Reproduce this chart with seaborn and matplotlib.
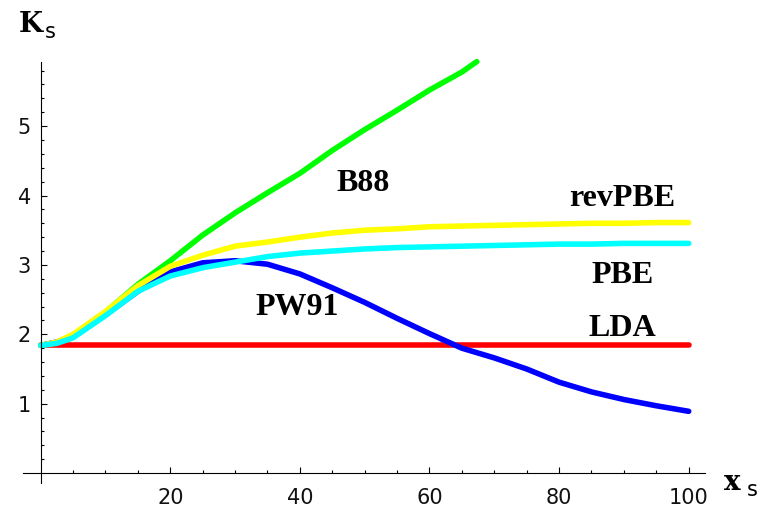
import pandas as pd
import numpy as np
import matplotlib
matplotlib.use("Agg")
import matplotlib.pyplot as plt
import seaborn as sns

# values
x_grid = [0, 2.5, 5, 10, 15, 20, 25, 30, 35, 40, 45, 50, 55, 60, 65, 70, 75, 80, 85, 90, 95, 100]

lda_x = [0, 100]
lda_k = [1.84, 1.84]

b88_x = [0, 2.5, 5, 10, 15, 20, 25, 30, 35, 40, 45, 50, 55, 60, 65, 67.3]
b88_k = [1.84, 1.88, 1.98, 2.32, 2.72, 3.06, 3.43, 3.75, 4.04, 4.32, 4.65, 4.95, 5.23, 5.52, 5.78, 5.93]

pw91_k = [1.84, 1.89, 1.97, 2.28, 2.62, 2.90, 3.03, 3.06, 3.01, 2.87, 2.67, 2.46, 2.23, 2.01,
          1.80, 1.66, 1.50, 1.31, 1.17, 1.06, 0.97, 0.89]
pbe_k = [1.84, 1.87, 1.95, 2.27, 2.62, 2.84, 2.96, 3.04, 3.12, 3.17, 3.20, 3.23, 3.25, 3.26,
         3.27, 3.28, 3.29, 3.30, 3.30, 3.31, 3.31, 3.31]
revpbe_k = [1.84, 1.89, 2.00, 2.33, 2.70, 2.98, 3.14, 3.27, 3.33, 3.40, 3.46, 3.50, 3.52, 3.55,
            3.56, 3.57, 3.58, 3.59, 3.60, 3.60, 3.61, 3.61]

order = ['LDA', 'B88', 'PW91', 'revPBE', 'PBE']
colors = {'LDA': '#ff0000', 'B88': '#00ff00', 'PW91': '#0000ff',
          'revPBE': '#ffff00', 'PBE': '#00ffff'}

frames = [
    pd.DataFrame({'x': lda_x, 'K': lda_k, 'method': 'LDA'}),
    pd.DataFrame({'x': b88_x, 'K': b88_k, 'method': 'B88'}),
    pd.DataFrame({'x': x_grid, 'K': pw91_k, 'method': 'PW91'}),
    pd.DataFrame({'x': x_grid, 'K': revpbe_k, 'method': 'revPBE'}),
    pd.DataFrame({'x': x_grid, 'K': pbe_k, 'method': 'PBE'}),
]
df = pd.concat(frames, ignore_index=True)

sns.set_theme(style="white")
plt.rcParams['font.family'] = ['DejaVu Sans']

W, H = 762, 508
fig = plt.figure(figsize=(W / 100, H / 100), dpi=100)
ax = fig.add_axes([23.2 / W, 1 - 482.8 / H, (704.9 - 23.2) / W, (482.8 - 61.6) / H])

sns.lineplot(data=df, x='x', y='K', hue='method', hue_order=order, palette=colors,
             estimator=None, sort=False, linewidth=4, legend=False, ax=ax)
for line in ax.get_lines():
    line.set_solid_capstyle('round')
    line.set_clip_on(False)

ax.set_xlim(-2.7, 102.5)
ax.set_ylim(-0.14, 5.93)

# axes through the origin
for side in ['top', 'right']:
    ax.spines[side].set_visible(False)
ax.spines['left'].set_position(('data', 0))
ax.spines['bottom'].set_position(('data', 0))
for side in ['left', 'bottom']:
    ax.spines[side].set_color('black')
    ax.spines[side].set_linewidth(0.8)

ax.set_xticks([20, 40, 60, 80, 100])
ax.set_xticks(np.arange(5, 101, 5), minor=True)
ax.set_yticks([1, 2, 3, 4, 5])
ax.set_yticks(np.arange(0.2, 5.95, 0.2), minor=True)
ax.tick_params(which='both', direction='in', color='black', width=0.8,
               bottom=True, left=True, top=False, right=False)
ax.tick_params(which='major', length=4.5, labelsize=15, labelcolor='#111111')
ax.tick_params(which='minor', length=2.5)
ax.tick_params(axis='x', which='major', pad=11)
ax.tick_params(axis='y', which='major', pad=7)
ax.set_xlabel('')
ax.set_ylabel('')
ax.grid(False)

# curve names
lab = dict(fontfamily='Liberation Serif', fontweight='bold', fontsize=23,
           ha='center', va='center', color='black')
ax.text(49.8, 4.17, 'B88', **lab)
ax.text(89.8, 3.96, 'revPBE', **lab)
ax.text(89.8, 2.85, 'PBE', **lab)
ax.text(89.8, 2.08, 'LDA', **lab)
ax.text(39.6, 2.38, 'PW91', **lab)

# axis titles K_s and x_s
slab = dict(fontfamily='DejaVu Serif', fontweight='bold', fontsize=20, va='baseline', color='black')
sub = dict(fontfamily='DejaVu Sans', fontsize=15, va='baseline', color='black')
fig.text(19 / W, 1 - 32 / H, 'K', **slab)
fig.text(45 / W, 1 - 38 / H, 's', **sub)
fig.text(724 / W, 1 - 490 / H, 'x', **slab)
fig.text(747 / W, 1 - 496 / H, 's', **sub)

fig.savefig('out.png', dpi=100, facecolor='white')
